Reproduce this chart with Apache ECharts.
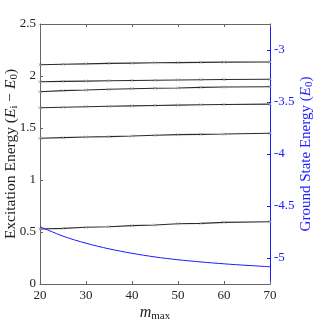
<!DOCTYPE html>
<html><head><meta charset="utf-8">
<script src="https://cdn.jsdelivr.net/npm/echarts@6/dist/echarts.min.js"></script>
<style>html,body{margin:0;padding:0;background:#fff}#c{width:314px;height:321px}</style>
</head><body><div id="c"></div>
<script>
const mValues = [20, 25, 30, 35, 40, 45, 50, 55, 60, 70];
const level1 = [2.108, 2.113, 2.117, 2.121, 2.124, 2.127, 2.129, 2.131, 2.133, 2.135];
const level2 = [1.945, 1.948, 1.951, 1.954, 1.957, 1.959, 1.962, 1.964, 1.966, 1.969];
const level3 = [1.849, 1.859, 1.865, 1.872, 1.878, 1.882, 1.885, 1.891, 1.894, 1.897];
const level4 = [1.695, 1.700, 1.705, 1.709, 1.713, 1.717, 1.720, 1.723, 1.726, 1.730];
const level5 = [1.401, 1.407, 1.413, 1.417, 1.423, 1.430, 1.436, 1.439, 1.442, 1.449];
const level6 = [0.529, 0.535, 0.545, 0.551, 0.561, 0.567, 0.580, 0.583, 0.593, 0.599];
const groundM = [20, 25, 30, 35, 40, 45, 50, 55, 60, 65, 70];
const groundE = [-4.699, -4.790, -4.858, -4.912, -4.955, -4.990, -5.017, -5.038, -5.056, -5.071, -5.084];
const xTicks = [20, 30, 40, 50, 60, 70];
const rightTicks = [-5, -4.5, -4, -3.5, -3];

const FONT = '"Liberation Serif", "DejaVu Serif", serif';
const BLUE = '#1a1aff';
const levels = [level1, level2, level3, level4, level5, level6];
const pair = (xs, ys) => xs.map((x, i) => [x, ys[i]]);

const series = levels.map(l => ({
  type: 'line', xAxisIndex: 0, yAxisIndex: 0,
  data: pair(mValues, l),
  symbol: 'path://M0,0L10,10M10,0L0,10', symbolSize: 3,
  itemStyle: { color: '#999', borderColor: '#999', borderWidth: 0.8 },
  lineStyle: { color: '#2a2a2a', width: 1.1 },
  silent: true, animation: false
}));
series.push({
  type: 'line', xAxisIndex: 0, yAxisIndex: 1,
  data: pair(groundM, groundE), symbol: 'none', smooth: 0.3,
  lineStyle: { color: BLUE, width: 1 }, animation: false
});

const chart = echarts.init(document.getElementById('c'), null, { renderer: 'canvas' });
chart.setOption({
  animation: false,
  grid: { left: 40, right: 44, top: 24, bottom: 37, containLabel: false, outerBoundsMode: 'none' },
  xAxis: [{
    type: 'value', min: 20, max: 70, interval: 10, position: 'bottom',
    name: '{i|m}{s|max}', nameLocation: 'middle', nameGap: 19, nameMoveOverlap: false,
    nameTextStyle: { fontFamily: FONT, color: '#222', rich: {
      i: { fontFamily: FONT, fontStyle: 'italic', fontSize: 16, color: '#222' },
      s: { fontFamily: FONT, fontSize: 11, color: '#222', padding: [8, 0, 0, 0] } } },
    axisLine: { lineStyle: { color: '#666', width: 1 } },
    axisTick: { inside: true, length: 3, lineStyle: { color: '#666' } },
    axisLabel: { fontFamily: FONT, fontSize: 13, color: '#222', margin: 5 },
    splitLine: { show: false }
  }, {
    type: 'value', min: 20, max: 70, interval: 10, position: 'top',
    axisLine: { lineStyle: { color: '#666', width: 1 } },
    axisTick: { inside: true, length: 3, lineStyle: { color: '#666' } },
    axisLabel: { show: false }, splitLine: { show: false }
  }],
  yAxis: [{
    type: 'value', min: 0, max: 2.5, interval: 0.5, position: 'left',
    name: 'Excitation Energy ({i|E}{s|i} − {i|E}{s|0})',
    nameLocation: 'middle', nameRotate: 90, nameGap: 20, nameMoveOverlap: false,
    nameTextStyle: { fontFamily: FONT, fontSize: 15.5, color: '#222', rich: {
      i: { fontFamily: FONT, fontStyle: 'italic', fontSize: 15.5, color: '#222' },
      s: { fontFamily: FONT, fontSize: 11, color: '#222', padding: [7, 0, 0, 0] } } },
    axisLine: { show: true, lineStyle: { color: '#666', width: 1 } },
    axisTick: { show: true, inside: true, length: 3, lineStyle: { color: '#666' } },
    axisLabel: { fontFamily: FONT, fontSize: 13, color: '#222', margin: 4 },
    splitLine: { show: false }
  }, {
    type: 'value', min: -5.25, max: -2.75, position: 'right',
    name: 'Ground State Energy ({i|E}{s|0})',
    nameLocation: 'middle', nameRotate: 90, nameGap: 27, nameMoveOverlap: false,
    nameTextStyle: { fontFamily: FONT, fontSize: 15, color: BLUE, rich: {
      i: { fontFamily: FONT, fontStyle: 'italic', fontSize: 15, color: BLUE },
      s: { fontFamily: FONT, fontSize: 11, color: BLUE, padding: [7, 0, 0, 0] } } },
    axisLine: { show: true, lineStyle: { color: BLUE, width: 1 } },
    axisTick: { show: true, inside: true, length: 3, customValues: rightTicks, lineStyle: { color: BLUE } },
    axisLabel: { fontFamily: FONT, fontSize: 13, color: BLUE, margin: 4, customValues: rightTicks },
    splitLine: { show: false }
  }],
  series: series
});
</script></body></html>
